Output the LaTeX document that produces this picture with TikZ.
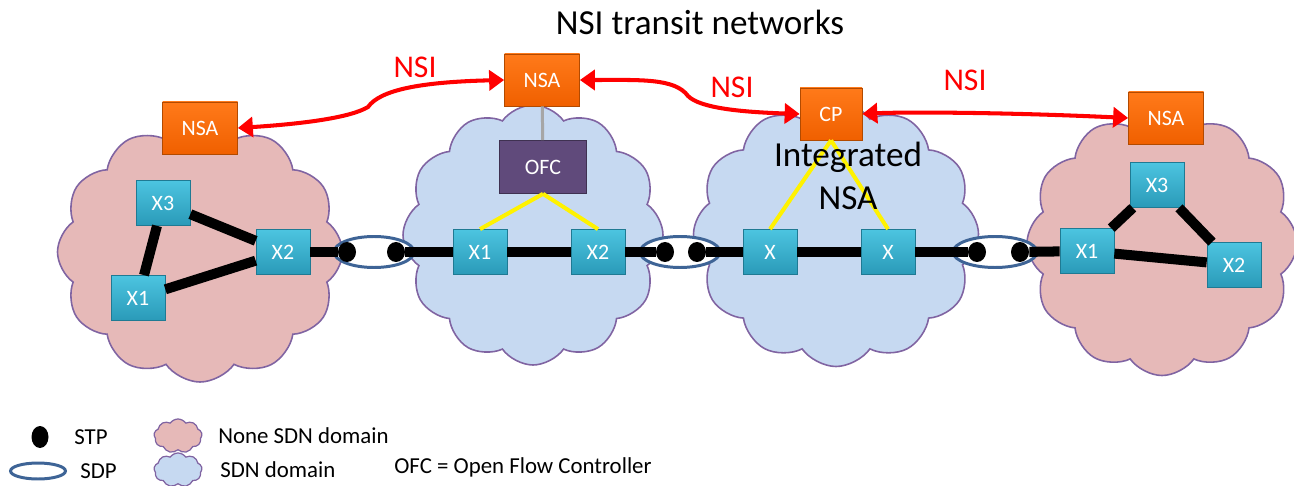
\documentclass[tikz,border=0pt]{standalone}
\usepackage{fontspec}
\setmainfont{Carlito}
\usepackage{tikz}
\usetikzlibrary{shapes.symbols, shapes.geometric, arrows.meta, positioning}
\definecolor{pinkfill}{HTML}{E6B9B8}
\definecolor{bluefill}{HTML}{C6D9F1}
\definecolor{cloudline}{HTML}{8064A2}
\definecolor{xtop}{HTML}{4CC4E0}
\definecolor{xbot}{HTML}{2A9AB8}
\definecolor{xline}{HTML}{1F7A93}
\definecolor{nsatop}{HTML}{FF7A1A}
\definecolor{nsabot}{HTML}{F06000}
\definecolor{nsaline}{HTML}{B24A00}
\definecolor{ofcfill}{HTML}{604A7B}
\definecolor{ofcline}{HTML}{3F3151}
\definecolor{sdpline}{HTML}{3E6496}

\begin{document}
\begin{tikzpicture}[x=0.2mm, y=-0.2mm, >={Triangle[length=3mm,width=4mm]},
  pinkcloud/.style={cloud, cloud puffs=12, cloud puff arc=110, cloud ignores aspect, draw=cloudline, fill=pinkfill, line width=0.9pt, inner sep=0},
  bluecloud/.style={pinkcloud, fill=bluefill},
  xbox/.style={draw=xline, top color=xtop, bottom color=xbot, text=white, minimum width=10.8mm, minimum height=9mm, inner sep=0, font=\fontsize{12.5}{15}\selectfont},
  nsabox/.style={xbox, draw=nsaline, top color=nsatop, bottom color=nsabot, minimum width=15mm, minimum height=10.4mm},
  ofcbox/.style={xbox, draw=ofcline, top color=ofcfill, bottom color=ofcfill, minimum width=17.4mm, minimum height=10.6mm},
  link/.style={line width=5.7pt},
  ctrl/.style={yellow, line width=2.3pt},
  nsi/.style={red, line width=2.3pt},
  nsilabel/.style={red, font=\fontsize{18}{21}\selectfont},
  sdp/.style={ellipse, draw=sdpline, fill=white, line width=1.7pt, minimum width=16mm, minimum height=6.2mm, inner sep=0},
  stp/.style={ellipse, fill=black, minimum width=3.6mm, minimum height=4mm, inner sep=0},
  legend/.style={inner sep=0, anchor=west, font=\fontsize{13}{15}\selectfont}]
\useasboundingbox (0,0) rectangle (1294,486);

\node (title) at (700,22) {\fontsize{20}{24}\selectfont NSI transit networks};

\node[pinkcloud, minimum width=57mm, minimum height=52mm] (c1) at (200,252) {};
\node[bluecloud, minimum width=52mm, minimum height=52mm] (c2) at (533,235) {};
\node[bluecloud, minimum width=57mm, minimum height=53mm] (c3) at (836,234) {};
\node[pinkcloud, minimum width=54mm, minimum height=53mm] (c4) at (1162,243) {};

\node[xbox] (l3) at (163,203) {X3};
\node[xbox] (l2) at (283,252) {X2};
\node[xbox] (l1) at (138,298) {X1};
\node[nsabox] (nsal) at (200,128) {NSA};
\node[nsabox] (nsam) at (542,80) {NSA};
\node[ofcbox] (ofc) at (543,167) {OFC};
\node[xbox] (m1) at (480,252) {X1};
\node[xbox] (m2) at (598,252) {X2};
\node[nsabox, minimum width=12.4mm] (cp) at (831,114) {CP};
\node[xbox] (n1) at (770,252) {X};
\node[xbox] (n2) at (888,252) {X};
\node[xbox] (r1) at (1087,251) {X1};
\node[xbox] (r3) at (1157,185) {X3};
\node[xbox] (r2) at (1234,265) {X2};
\node[nsabox] (nsar) at (1166,118) {NSA};

\node[sdp] (s1) at (374,252) {};
\node[stp] (s1a) at (347,252) {};
\node[stp] (s1b) at (396,252) {};
\node[sdp] (s2) at (680,252) {};
\node[stp] (s2a) at (665,252) {};
\node[stp] (s2b) at (697,252) {};
\node[sdp, minimum width=16.8mm] (s3) at (995,252) {};
\node[stp] (s3a) at (977,252) {};
\node[stp] (s3b) at (1020,252) {};

\draw[link] (l3) -- (l2);
\draw[link] (l3) -- (l1);
\draw[link] (l1) -- (l2);
\draw[link] (l2) -- (s1a);
\draw[link] (s1b) -- (m1);
\draw[link] (m1) -- (m2);
\draw[link] (m2) -- (s2a);
\draw[link] (s2b) -- (n1);
\draw[link] (n1) -- (n2);
\draw[link] (n2) -- (s3a);
\draw[link] (s3b) -- (r1);
\draw[link] (r1) -- (r3);
\draw[link] (r1) -- (r2);
\draw[link] (r3) -- (r2);

\draw[gray!70, line width=1.7pt] (nsam) -- (ofc);
\draw[ctrl] (ofc.south) -- (m1.north);
\draw[ctrl] (ofc.south) -- (m2.north);
\draw[ctrl] (cp.south) -- (n1.north);
\draw[ctrl] (cp.south) -- (n2.north);
\node[align=center, font=\fontsize{20}{24}\selectfont] (integ) at (848,176) {Integrated\\NSA};

\draw[nsi, <->] (nsal.east) .. controls (300,124) and (350,118) .. (368,107) .. controls (380,90) and (420,82) .. (nsam.west);
\draw[nsi, <->] (nsam.east) .. controls (640,80) and (675,78) .. (688,96) .. controls (700,108) and (740,112) .. (cp.west);
\draw[nsi, <->] (cp.east) .. controls (900,112) and (1000,112) .. (nsar.west);
\node[nsilabel] (nsi1) at (415,67) {NSI};
\node[nsilabel] (nsi2) at (732,87) {NSI};
\node[nsilabel] (nsi3) at (965,80) {NSI};

\node[stp, minimum width=3.4mm, minimum height=4.4mm] (kstp) at (40,437) {};
\node[legend] (tstp) at (74,437) {STP};
\node[sdp, minimum width=11mm, minimum height=3.2mm] (ksdp) at (38,471) {};
\node[legend] (tsdp) at (80,471) {SDP};
\node[pinkcloud, cloud puffs=9, minimum width=9.6mm, minimum height=6.8mm, line width=0.7pt] (kpink) at (178,436) {};
\node[legend] (tpink) at (218,436) {None SDN domain};
\node[bluecloud, cloud puffs=9, minimum width=9.6mm, minimum height=6.8mm, line width=0.7pt] (kblue) at (178,470) {};
\node[legend] (tblue) at (220,470) {SDN domain};
\node[legend] (tofc) at (394,467) {OFC = Open Flow Controller};
\end{tikzpicture}
\end{document}
